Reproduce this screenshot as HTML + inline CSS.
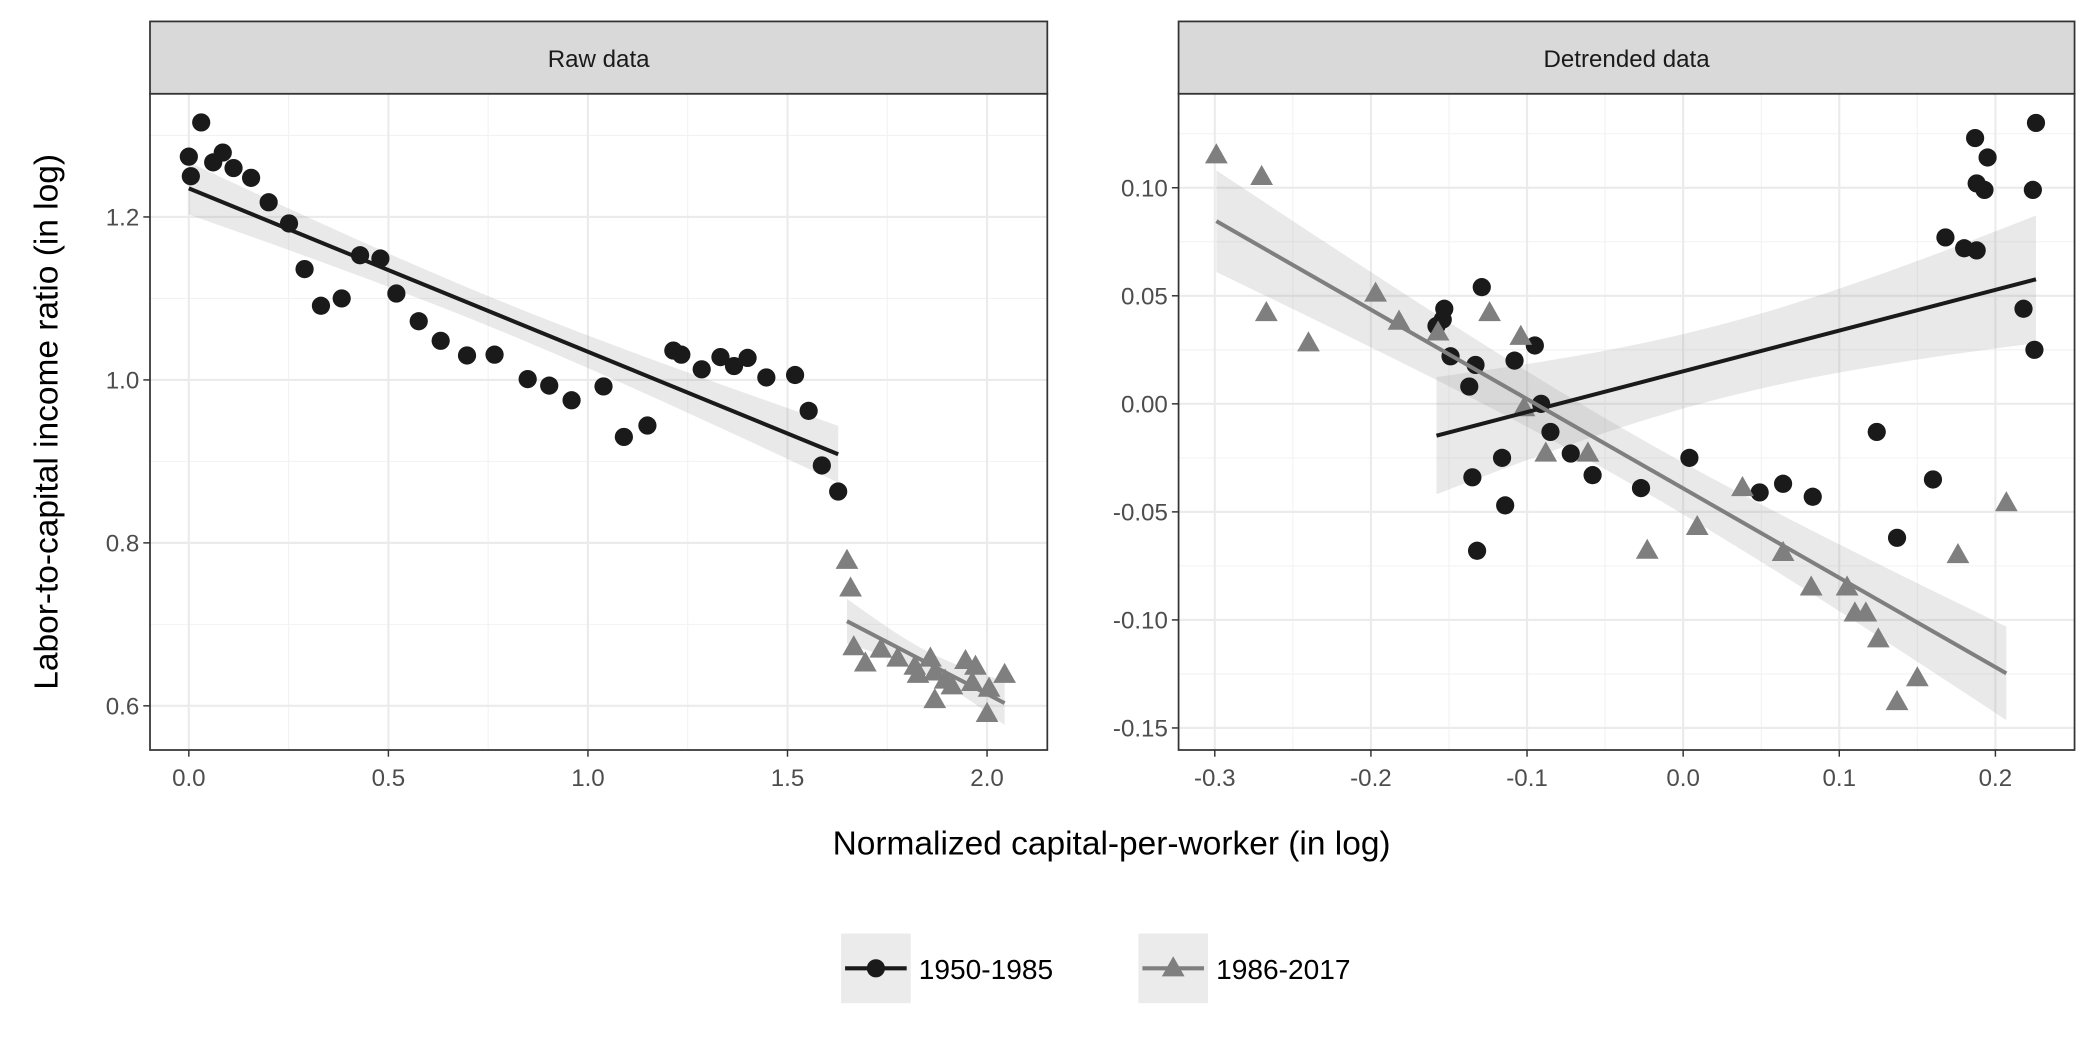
<!DOCTYPE html>
<html><head><meta charset="utf-8"><style>
html,body{margin:0;padding:0;background:#fff;}
svg{display:block;font-family:"Liberation Sans",Arial,sans-serif;}
</style></head><body>
<svg id="chart" width="2100" height="1050" viewBox="0 0 1568 784" xmlns="http://www.w3.org/2000/svg"></svg>
<script>
// ---- Raw data panel ----
const rawX1 = [0.000,0.005,0.031,0.061,0.085,0.112,0.156,0.200,0.251,0.290,0.331,0.383,0.429,0.480,0.520,0.576,0.631,0.697,0.766,0.849,0.903,0.959,1.039,1.090,1.149,1.214,1.234,1.285,1.332,1.366,1.400,1.447,1.519,1.553,1.586,1.627];
const rawY1 = [1.274,1.250,1.316,1.267,1.279,1.260,1.248,1.218,1.192,1.136,1.091,1.100,1.153,1.149,1.106,1.072,1.048,1.030,1.031,1.001,0.993,0.975,0.992,0.930,0.944,1.036,1.031,1.013,1.028,1.017,1.027,1.003,1.006,0.962,0.895,0.863];
const rawX2 = [1.649,1.658,1.666,1.695,1.734,1.776,1.819,1.827,1.858,1.869,1.869,1.895,1.912,1.946,1.963,1.971,2.000,2.005,2.044];
const rawY2 = [0.778,0.744,0.672,0.652,0.669,0.658,0.648,0.638,0.658,0.641,0.607,0.631,0.624,0.655,0.628,0.648,0.590,0.621,0.638];
// ---- Detrended data panel ----
const detX1 = [-0.158,-0.153,-0.154,-0.149,-0.137,-0.133,-0.129,-0.135,-0.132,-0.116,-0.114,-0.108,-0.095,-0.091,-0.085,-0.072,-0.058,-0.027,0.004,0.049,0.064,0.083,0.124,0.137,0.160,0.168,0.180,0.187,0.188,0.188,0.193,0.195,0.218,0.224,0.225,0.226];
const detY1 = [0.036,0.044,0.039,0.022,0.008,0.018,0.054,-0.034,-0.068,-0.025,-0.047,0.020,0.027,0.000,-0.013,-0.023,-0.033,-0.039,-0.025,-0.041,-0.037,-0.043,-0.013,-0.062,-0.035,0.077,0.072,0.123,0.102,0.071,0.099,0.114,0.044,0.099,0.025,0.130];
const detX2 = [-0.299,-0.270,-0.267,-0.240,-0.197,-0.182,-0.157,-0.124,-0.104,-0.102,-0.088,-0.061,-0.023,0.009,0.038,0.064,0.082,0.105,0.110,0.117,0.125,0.137,0.150,0.176,0.207];
const detY2 = [0.115,0.105,0.042,0.028,0.051,0.038,0.033,0.042,0.031,-0.002,-0.023,-0.023,-0.068,-0.057,-0.039,-0.069,-0.085,-0.085,-0.097,-0.097,-0.109,-0.138,-0.127,-0.070,-0.046];
const rawXTicks = ["0.0","0.5","1.0","1.5","2.0"];
const rawYTicks = ["0.6","0.8","1.0","1.2"];
const detXTicks = ["-0.3","-0.2","-0.1","0.0","0.1","0.2"];
const detYTicks = ["-0.15","-0.10","-0.05","0.00","0.05","0.10"];
const seriesNames = ["1950-1985","1986-2017"];

const NS="http://www.w3.org/2000/svg";
const svg=document.getElementById('chart');
function mk(tag,attrs,parent){const e=document.createElementNS(NS,tag);for(const k in attrs)e.setAttribute(k,attrs[k]);(parent||svg).appendChild(e);return e;}
const C1="#1a1a1a", C2="#7f7f7f";

function fit(xs,ys){
  const n=xs.length;let mx=0,my=0;for(let i=0;i<n;i++){mx+=xs[i];my+=ys[i];}mx/=n;my/=n;
  let sxx=0,sxy=0;for(let i=0;i<n;i++){sxx+=(xs[i]-mx)**2;sxy+=(xs[i]-mx)*(ys[i]-my);}
  const b=sxy/sxx,a=my-b*mx;let sse=0;for(let i=0;i<n;i++)sse+=(ys[i]-a-b*xs[i])**2;
  const s=Math.sqrt(sse/(n-2));const t=2.03;
  return {a,b,se:x=>t*s*Math.sqrt(1/n+(x-mx)**2/sxx),min:Math.min(...xs),max:Math.max(...xs)};
}

function panel(name,L,R,title,xd,yd,xTicks,yTicks,xMinor,yMinor,sets){
  const T=70,B=560;
  const g=mk('g',{});
  
  
  const sx=v=>L+(v-xd[0])/(xd[1]-xd[0])*(R-L);
  const sy=v=>B-(v-yd[0])/(yd[1]-yd[0])*(B-T);
  mk('rect',{x:L,y:T,width:R-L,height:B-T,fill:'#fff'},g);
  xMinor.forEach(v=>mk('line',{x1:sx(v),x2:sx(v),y1:T,y2:B,stroke:'#f2f2f2','stroke-width':0.8},g));
  yMinor.forEach(v=>mk('line',{x1:L,x2:R,y1:sy(v),y2:sy(v),stroke:'#f2f2f2','stroke-width':0.8},g));
  xTicks.forEach(t=>{const v=parseFloat(t);mk('line',{x1:sx(v),x2:sx(v),y1:T,y2:B,stroke:'#ebebeb','stroke-width':1.6},g);
    mk('line',{x1:sx(v),x2:sx(v),y1:B,y2:B+5,stroke:'#333','stroke-width':1.1},g);
    const tx=mk('text',{x:sx(v),y:B+27,'text-anchor':'middle','font-size':18,fill:'#4d4d4d'},g);tx.textContent=t;
    
    });
  yTicks.forEach(t=>{const v=parseFloat(t);mk('line',{x1:L,x2:R,y1:sy(v),y2:sy(v),stroke:'#ebebeb','stroke-width':1.6},g);
    mk('line',{x1:L-5,x2:L,y1:sy(v),y2:sy(v),stroke:'#333','stroke-width':1.1},g);
    const tx=mk('text',{x:L-8,y:sy(v)+6.5,'text-anchor':'end','font-size':18,fill:'#4d4d4d'},g);tx.textContent=t;
    
    });
  sets.forEach((s,si)=>{
    const f=fit(s.x,s.y);const N=40;let up=[],lo=[];
    for(let i=0;i<=N;i++){const x=f.min+(f.max-f.min)*i/N;const y=f.a+f.b*x;const e=f.se(x);up.push(sx(x)+','+sy(y+e));lo.unshift(sx(x)+','+sy(y-e));}
    const band=mk('polygon',{points:up.concat(lo).join(' '),fill:'#999','fill-opacity':0.22},g);
    
    
    s.band=band;s.f=f;
  });
  sets.forEach((s,si)=>{
    for(let i=0;i<s.x.length;i++){
      let m;
      if(s.shape==='c'){m=mk('circle',{cx:sx(s.x[i]),cy:sy(s.y[i]),r:6.8,fill:s.c},g);}
      else{const x=sx(s.x[i]),y=sy(s.y[i]);m=mk('polygon',{points:`${x},${y-9} ${x-8.5},${y+6} ${x+8.5},${y+6}`,fill:s.c},g);}
      
      
    }
  });
  sets.forEach(s=>{const f=s.f;
    const ln=mk('line',{x1:sx(f.min),y1:sy(f.a+f.b*f.min),x2:sx(f.max),y2:sy(f.a+f.b*f.max),stroke:s.c,'stroke-width':3},g);
    
    });
  mk('rect',{x:L,y:T,width:R-L,height:B-T,fill:'none',stroke:'#333','stroke-width':1.3},g);
  const st=mk('rect',{x:L,y:16,width:R-L,height:T-16,fill:'#d9d9d9',stroke:'#333','stroke-width':1.3},g);
  
  
  const tt=mk('text',{x:(L+R)/2,y:50,'text-anchor':'middle','font-size':18,fill:'#1a1a1a'},g);tt.textContent=title;
  
  
}
panel('raw',112,782,'Raw data',[-0.0973,2.151],[0.5458,1.3512],rawXTicks,rawYTicks,[0.25,0.75,1.25,1.75],[0.7,0.9,1.1,1.3],
  [{x:rawX1,y:rawY1,c:C1,shape:'c',key:'1950-1985'},{x:rawX2,y:rawY2,c:C2,shape:'t',key:'1986-2017'}]);
panel('detrended',880,1549,'Detrended data',[-0.3232,0.2507],[-0.1602,0.1435],detXTicks,detYTicks,[-0.25,-0.15,-0.05,0.05,0.15],[-0.125,-0.075,-0.025,0.025,0.075,0.125],
  [{x:detX1,y:detY1,c:C1,shape:'c',key:'1950-1985'},{x:detX2,y:detY2,c:C2,shape:'t',key:'1986-2017'}]);

const xt=mk('text',{x:830,y:638,'text-anchor':'middle','font-size':25,fill:'#000'});xt.textContent='Normalized capital-per-worker (in log)';


const yt=mk('text',{x:0,y:0,'text-anchor':'middle','font-size':25,fill:'#000',transform:'translate(43,315) rotate(-90)'});yt.textContent='Labor-to-capital income ratio (in log)';



// legend
[{x:628,c:C1,shape:'c',tx:686},{x:850,c:C2,shape:'t',tx:908}].forEach((k,i)=>{
  const g=mk('g',{});
  
  
  mk('rect',{x:k.x,y:697,width:52,height:52,fill:'#ebebeb'},g);
  mk('line',{x1:k.x+3,x2:k.x+49,y1:723,y2:723,stroke:k.c,'stroke-width':3},g);
  if(k.shape==='c')mk('circle',{cx:k.x+26,cy:723,r:6.8,fill:k.c},g);
  else mk('polygon',{points:`${k.x+26},${714} ${k.x+17.5},${729} ${k.x+34.5},${729}`,fill:k.c},g);
  const t=mk('text',{x:k.tx,y:731,'font-size':21,fill:'#000'},g);t.textContent=seriesNames[i];
});
</script>
</body></html>
